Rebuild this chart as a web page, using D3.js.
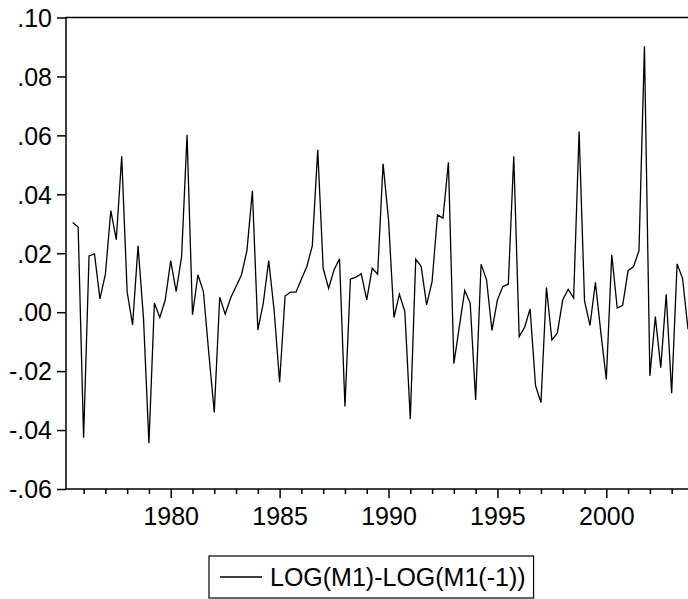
<!DOCTYPE html>
<html lang="en">
<head>
  <meta charset="UTF-8" />
  <title>LOG(M1)-LOG(M1(-1))</title>
  <style>
    body { margin: 0; background: #fff; }
    svg { display: block; }
    .data-line { fill: none; stroke: #000; stroke-width: 1.3px; stroke-linejoin: miter; }
    text { font-family: Arial, "Liberation Sans", sans-serif; fill: #000; }
  </style>
</head>
<body>
  <script src="https://cdn.jsdelivr.net/npm/d3@7/dist/d3.min.js"></script>
  <script>
    // quarterly series, first observation 1975Q3
    var startYear = 1975;
    var startQuarter = 3;
    var values = [
      0.0304, 0.0289, -0.0426, 0.0191, 0.0198, 0.0045, 0.0129, 0.0345, 0.0246, 0.0529,
      0.0068, -0.0043, 0.0225, -0.0020, -0.0445, 0.0031, -0.0018, 0.0042, 0.0175, 0.0070,
      0.0189, 0.0602, -0.0009, 0.0127, 0.0070, -0.0140, -0.0340, 0.0051, -0.0007, 0.0048,
      0.0087, 0.0127, 0.0209, 0.0412, -0.0060, 0.0031, 0.0175, 0.0005, -0.0238, 0.0055,
      0.0068, 0.0068, 0.0112, 0.0155, 0.0225, 0.0551, 0.0149, 0.0081, 0.0144, 0.0181,
      -0.0320, 0.0112, 0.0119, 0.0130, 0.0042, 0.0149, 0.0129, 0.0504, 0.0314, -0.0018,
      0.0061, 0.0002, -0.0362, 0.0180, 0.0155, 0.0025, 0.0104, 0.0330, 0.0319, 0.0509,
      -0.0175, -0.0050, 0.0074, 0.0031, -0.0298, 0.0163, 0.0110, -0.0062, 0.0042, 0.0087,
      0.0095, 0.0529, -0.0083, -0.0051, 0.0011, -0.0249, -0.0307, 0.0084, -0.0094, -0.0071,
      0.0042, 0.0078, 0.0048, 0.0613, 0.0038, -0.0045, 0.0101, -0.0070, -0.0228, 0.0195,
      0.0014, 0.0023, 0.0141, 0.0155, 0.0209, 0.0902, -0.0216, -0.0015, -0.0188, 0.0061,
      -0.0275, 0.0164, 0.0115, -0.0058
    ];
    var yTicks = [0.10, 0.08, 0.06, 0.04, 0.02, 0.00, -0.02, -0.04, -0.06];
    var yTickLabels = [".10", ".08", ".06", ".04", ".02", ".00", "-.02", "-.04", "-.06"];
    var xTickYears = [1976, 1977, 1978, 1979, 1980, 1981, 1982, 1983, 1984, 1985, 1986, 1987,
      1988, 1989, 1990, 1991, 1992, 1993, 1994, 1995, 1996, 1997, 1998, 1999, 2000, 2001, 2002, 2003];
    var xTickLabels = ["1980", "1985", "1990", "1995", "2000"];
    var seriesName = "LOG(M1)-LOG(M1(-1))";

    var w = 688;
    var h = 599;
    var plot = { left: 66, top: 17.5, right: 694.7, bottom: 489 };
    var fontSize = "25px";

    var data = values.map(function(v, i) {
      var q = startQuarter - 1 + i;
      return { t: startYear + q / 4, value: v };
    });

    var svg = d3.select("body").append("svg")
      .attr("width", w)
      .attr("height", h);

    svg.append("rect").attr("width", w).attr("height", h).attr("fill", "#fff");

    var xScale = d3.scaleLinear()
      .domain([1975.192, 2004.058])
      .range([plot.left, plot.right]);

    var yScale = d3.scaleLinear()
      .domain([-0.06, 0.10])
      .range([plot.bottom, plot.top]);

    // frame
    svg.append("rect")
      .attr("x", plot.left)
      .attr("y", plot.top)
      .attr("width", plot.right - plot.left)
      .attr("height", plot.bottom - plot.top)
      .attr("fill", "none")
      .attr("stroke", "#000")
      .attr("stroke-width", 1.5);

    var line = d3.line()
      .x(function(d) { return xScale(d.t); })
      .y(function(d) { return yScale(d.value); });

    svg.append("path")
      .datum(data)
      .attr("class", "data-line")
      .attr("d", line);

    // y axis
    var yAxis = d3.axisLeft(yScale)
      .tickValues(yTicks)
      .tickSize(9)
      .tickPadding(5)
      .tickFormat(function(d, i) { return yTickLabels[i]; });

    var gy = svg.append("g")
      .attr("transform", "translate(" + plot.left + ",0)")
      .call(yAxis);
    gy.select(".domain").remove();
    gy.selectAll("line").attr("stroke", "#000").attr("stroke-width", 1.5);
    gy.selectAll("text")
      .attr("font-size", fontSize)
      .attr("dy", "0.35em")
      .style("font-family", "Arial, 'Liberation Sans', sans-serif");

    // x axis
    var xAxis = d3.axisBottom(xScale)
      .tickValues(xTickYears)
      .tickSize(5)
      .tickPadding(8)
      .tickFormat(function(d) {
        var s = String(d);
        return xTickLabels.indexOf(s) >= 0 ? s : "";
      });

    var gx = svg.append("g")
      .attr("transform", "translate(0," + plot.bottom + ")")
      .call(xAxis);
    gx.select(".domain").remove();
    gx.selectAll(".tick line")
      .attr("stroke", "#000")
      .attr("stroke-width", 1.5)
      .attr("y2", function(d) { return xTickLabels.indexOf(String(d)) >= 0 ? 9 : 5; });
    gx.selectAll("text")
      .attr("font-size", fontSize)
      .attr("y", 18)
      .style("font-family", "Arial, 'Liberation Sans', sans-serif");

    // legend
    var legend = svg.append("g").attr("transform", "translate(209,556)");
    var legendText = legend.append("text")
      .attr("x", 61)
      .attr("y", 21)
      .attr("dy", "0.35em")
      .attr("font-size", fontSize)
      .text(seriesName);
    var tw = legendText.node().getComputedTextLength();
    legend.insert("rect", "text")
      .attr("width", 61 + tw + 8)
      .attr("height", 42)
      .attr("fill", "#fff")
      .attr("stroke", "#000")
      .attr("stroke-width", 1.2);
    legend.append("line")
      .attr("x1", 11).attr("x2", 53)
      .attr("y1", 21).attr("y2", 21)
      .attr("stroke", "#000")
      .attr("stroke-width", 1.3);
  </script>
</body>
</html>
